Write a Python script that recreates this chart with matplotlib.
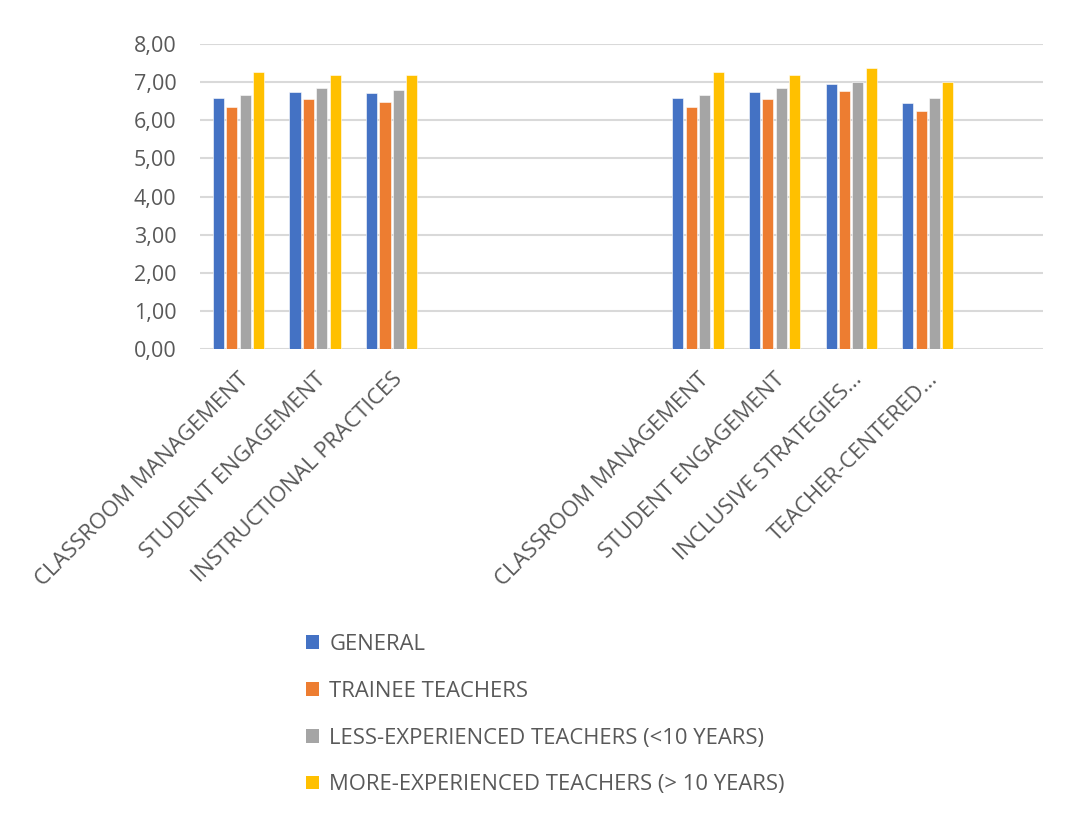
import matplotlib
matplotlib.use("Agg")
import matplotlib.pyplot as plt
import numpy as np
from matplotlib.patches import Patch

categories = ['CLASSROOM MANAGEMENT', 'STUDENT ENGAGEMENT', 'INSTRUCTIONAL PRACTICES',
              '', '', '',
              'CLASSROOM MANAGEMENT', 'STUDENT ENGAGEMENT', 'INCLUSIVE STRATEGIES…',
              'TEACHER-CENTERED…', '']
nan = np.nan
general = [6.58, 6.73, 6.70, nan, nan, nan, 6.58, 6.73, 6.94, 6.44, nan]
trainee = [6.34, 6.55, 6.48, nan, nan, nan, 6.34, 6.55, 6.76, 6.23, nan]
less_exp = [6.65, 6.84, 6.80, nan, nan, nan, 6.65, 6.84, 7.01, 6.58, nan]
more_exp = [7.26, 7.19, 7.19, nan, nan, nan, 7.26, 7.19, 7.36, 7.01, nan]
series_names = ['GENERAL', 'TRAINEE TEACHERS', 'LESS-EXPERIENCED TEACHERS (<10 YEARS)',
                'MORE-EXPERIENCED TEACHERS (> 10 YEARS)']
colors = ['#4472C4', '#ED7D31', '#A5A5A5', '#FFC000']
yticks = [0, 1, 2, 3, 4, 5, 6, 7, 8]
ytick_labels = ['0,00', '1,00', '2,00', '3,00', '4,00', '5,00', '6,00', '7,00', '8,00']

plt.rcParams['font.family'] = ['Open Sans', 'DejaVu Sans']
txt = '#595959'

fig = plt.figure(figsize=(10.65, 8.16), dpi=100)
ax = fig.add_axes([0.188, 0.5717, 0.791, 0.3747])

x = np.arange(len(categories))
step = 0.175
w = 0.145
data = [general, trainee, less_exp, more_exp]
for i, (vals, c) in enumerate(zip(data, colors)):
    ax.bar(x + (i - 1.5) * step, vals, width=w, color=c, edgecolor='white',
           linewidth=0.4, zorder=3)

ax.set_xlim(-0.5, len(categories) - 0.5)
ax.set_ylim(0, 8)
ax.set_yticks(yticks)
ax.set_yticklabels(ytick_labels, fontsize=15.5, color=txt)
ax.yaxis.grid(True, color='#D9D9D9', linewidth=1.5, zorder=0)
ax.set_axisbelow(True)
for s in ax.spines.values():
    s.set_visible(False)
ax.tick_params(axis='y', length=0, pad=17)
ax.tick_params(axis='x', length=0, pad=14)
ax.set_xticks(x)
ax.set_xticklabels(categories, rotation=45, ha='right', va='top',
                   rotation_mode='anchor', fontsize=16, color=txt)

handles = [Patch(facecolor=c, edgecolor='none') for c in colors]
fig.legend(handles, series_names, loc='upper left', bbox_to_anchor=(0.269, 0.247),
           frameon=False, fontsize=15.8, labelcolor=txt, handlelength=0.6,
           handleheight=0.6, handletextpad=0.45, labelspacing=1.17)

fig.savefig('out.png', dpi=100, facecolor='white')
